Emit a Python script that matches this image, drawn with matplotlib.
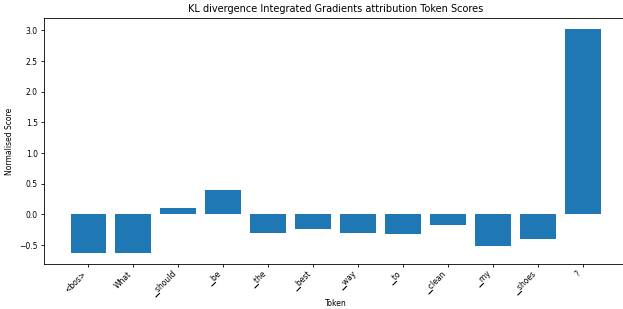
import matplotlib
matplotlib.use("Agg")
import matplotlib.pyplot as plt

tokens = ["<bos>", "What", "▁should", "▁be", "▁the", "▁best", "▁way",
          "▁to", "▁clean", "▁my", "▁shoes", "?"]
scores = [-0.625, -0.625, 0.10, 0.405, -0.295, -0.23, -0.31,
          -0.32, -0.175, -0.51, -0.405, 3.02]

fig = plt.figure(figsize=(6.23, 3.09), dpi=100)
ax = fig.add_axes([44 / 623, 1 - 264 / 309, (627 - 44) / 623, (264 - 18) / 309])

ax.bar(range(len(tokens)), scores, color="#1f77b4")
ax.set_xticks(range(len(tokens)))
ax.set_xticklabels(tokens, rotation=45, ha="right", fontsize=5.5)
ax.tick_params(axis="y", labelsize=5.5, length=2.5, width=0.6, pad=2)
ax.tick_params(axis="x", length=2.5, width=0.6, pad=1.5)
for s in ax.spines.values():
    s.set_linewidth(0.6)

ax.set_xlabel("Token", fontsize=5.5, labelpad=0.5)
ax.set_ylabel("Normalised Score", fontsize=5.5, labelpad=4)
ax.set_title("KL divergence Integrated Gradients attribution Token Scores", fontsize=7, pad=4)

fig.savefig("out.png", dpi=100)
